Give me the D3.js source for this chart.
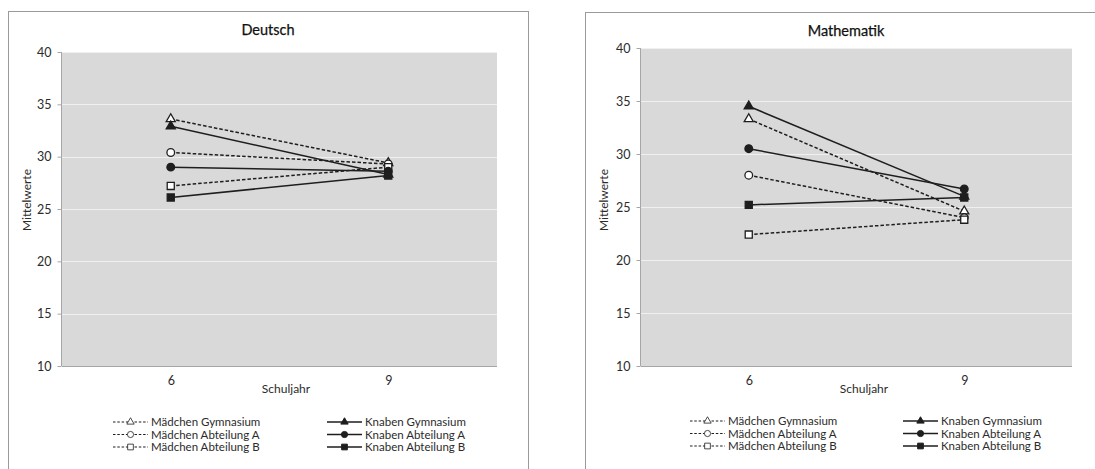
<!DOCTYPE html>
<html><head><meta charset="utf-8">
<script src="https://cdn.jsdelivr.net/npm/d3@7"></script>
<style>
html,body{margin:0;padding:0;background:#fff;}
svg{display:block;font-family:Lato,"Open Sans",sans-serif;}
</style></head>
<body><svg id="c" width="1095" height="469"></svg>
<script>
// ---- data ----
const categories = ["6", "9"];
const seriesNames = ["Mädchen Gymnasium", "Mädchen Abteilung A", "Mädchen Abteilung B",
                     "Knaben Gymnasium", "Knaben Abteilung A", "Knaben Abteilung B"];
const deutschValues = [
  [33.6, 29.4], // Mädchen Gymnasium
  [30.4, 29.3], // Mädchen Abteilung A
  [27.2, 29.0], // Mädchen Abteilung B
  [32.9, 28.3], // Knaben Gymnasium
  [29.0, 28.6], // Knaben Abteilung A
  [26.1, 28.2]  // Knaben Abteilung B
];
const mathValues = [
  [33.3, 24.6],
  [28.0, 24.0],
  [22.4, 23.8],
  [34.5, 26.0],
  [30.5, 26.7],
  [25.2, 25.9]
];
const yTicks = [10, 15, 20, 25, 30, 35, 40];
const titles = ["Deutsch", "Mathematik"];
const yLabel = "Mittelwerte";
const xLabel = "Schuljahr";

// ---- styling / layout ----
const symbolTypes = [d3.symbolTriangle, d3.symbolCircle, d3.symbolSquare,
                     d3.symbolTriangle, d3.symbolCircle, d3.symbolSquare];
const symbolSizes = [36, 46, 50, 36, 46, 50];
const filled = [false, false, false, true, true, true];

const panels = [
  {values: deutschValues, title: titles[0], bx: 8, by: 11, bw: 520,
   l: 62, r: 497, t: 52, b: 366, tx: 268, ty: 35, ylx: 27, yly: 200, xlx: 286, xly: 393,
   legX: [113, 327], legY: [422, 434.5, 447]},
  {values: mathValues, title: titles[1], bx: 585, by: 12, bw: 520,
   l: 641, r: 1072, t: 48, b: 366, tx: 846, ty: 36, ylx: 604, yly: 200, xlx: 864, xly: 393,
   legX: [690, 903], legY: [421, 433.5, 446]}
];

const svg = d3.select("#c");
const ink = "#1e1e1e";
const txt = "#2b2b2b";

panels.forEach(p => {
  const g = svg.append("g");
  // chart border
  g.append("rect").attr("x", p.bx + 0.5).attr("y", p.by + 0.5)
    .attr("width", p.bw).attr("height", 520)
    .attr("fill", "#fff").attr("stroke", "#9a9a9a").attr("stroke-width", 1);

  const x = d3.scalePoint().domain(categories).range([p.l, p.r]).padding(0.5);
  const y = d3.scaleLinear().domain([10, 40]).range([p.b, p.t]);

  // plot area
  g.append("rect").attr("x", p.l).attr("y", p.t).attr("width", p.r - p.l).attr("height", p.b - p.t)
    .attr("fill", "#d9d9d9");
  // gridlines
  g.selectAll(".grid").data(yTicks.filter(v => v > 10)).join("line")
    .attr("x1", p.l).attr("x2", p.r)
    .attr("y1", d => Math.round(y(d)) + 0.5).attr("y2", d => Math.round(y(d)) + 0.5)
    .attr("stroke", "#f0f0f0").attr("stroke-width", 1);
  // bottom axis line
  g.append("line").attr("x1", p.l).attr("x2", p.r)
    .attr("y1", Math.round(y(10)) + 0.5).attr("y2", Math.round(y(10)) + 0.5)
    .attr("stroke", "#a6a6a6");

  // y axis
  const ya = g.append("g").attr("transform", `translate(${p.l - 0.5},0)`)
    .call(d3.axisLeft(y).tickValues(yTicks).tickSize(4).tickPadding(6).tickFormat(d3.format("d")));
  ya.select(".domain").attr("stroke", "#a6a6a6").attr("d", `M0,${p.t}V${p.b}`);
  ya.selectAll(".tick line").attr("stroke", "#a6a6a6");
  ya.selectAll("text").attr("font-size", 12.5).attr("fill", txt).attr("font-family", "Lato");

  // x axis
  const xa = g.append("g").attr("transform", `translate(0,${p.b})`)
    .call(d3.axisBottom(x).tickSize(0).tickPadding(10));
  xa.select(".domain").remove();
  xa.selectAll("text").attr("font-size", 12.5).attr("fill", txt).attr("font-family", "Lato");

  // titles / labels
  g.append("text").attr("x", p.tx).attr("y", p.ty).attr("text-anchor", "middle")
    .attr("font-size", 14.5).attr("font-weight", 400).attr("fill", "#111")
    .attr("stroke", "#111").attr("stroke-width", 0.25).text(p.title);
  g.append("text").attr("transform", `translate(${p.ylx},${p.yly}) rotate(-90)`)
    .attr("text-anchor", "middle").attr("dy", "0.35em")
    .attr("font-size", 12).attr("fill", txt).text(yLabel);
  g.append("text").attr("x", p.xlx).attr("y", p.xly).attr("text-anchor", "middle")
    .attr("font-size", 12).attr("fill", txt).text(xLabel);

  // series lines
  const line = d3.line().x((d, i) => x(categories[i])).y(d => y(d));
  p.values.forEach((vals, si) => {
    g.append("path").attr("d", line(vals)).attr("fill", "none")
      .attr("stroke", ink).attr("stroke-width", 1.5)
      .attr("stroke-dasharray", filled[si] ? null : "3.5,2");
  });
  // markers
  p.values.forEach((vals, si) => {
    g.selectAll(null).data(vals).join("path")
      .attr("transform", (d, i) => `translate(${x(categories[i])},${y(d)})`)
      .attr("d", d3.symbol().type(symbolTypes[si]).size(symbolSizes[si]))
      .attr("fill", filled[si] ? ink : "#fff")
      .attr("stroke", ink).attr("stroke-width", 1.3);
  });

  // legend
  seriesNames.forEach((name, si) => {
    const col = si < 3 ? 0 : 1;
    const row = si % 3;
    const lx = p.legX[col], ly = p.legY[row];
    const lg = g.append("g").attr("transform", `translate(${lx},${ly})`);
    lg.append("line").attr("x1", 0).attr("x2", 35).attr("y1", 0).attr("y2", 0)
      .attr("stroke", ink).attr("stroke-width", filled[si] ? 1.4 : 1.1)
      .attr("stroke-dasharray", filled[si] ? null : "2.5,1.8");
    lg.append("path").attr("transform", "translate(17.5,0)")
      .attr("d", d3.symbol().type(symbolTypes[si]).size(symbolSizes[si] * 0.65))
      .attr("fill", filled[si] ? ink : "#fff").attr("stroke", ink).attr("stroke-width", filled[si] ? 1 : 0.8);
    lg.append("text").attr("x", 38).attr("y", 0).attr("dy", "0.35em")
      .attr("font-size", 11.5).attr("fill", txt).text(name);
  });
});
</script>
</body></html>
